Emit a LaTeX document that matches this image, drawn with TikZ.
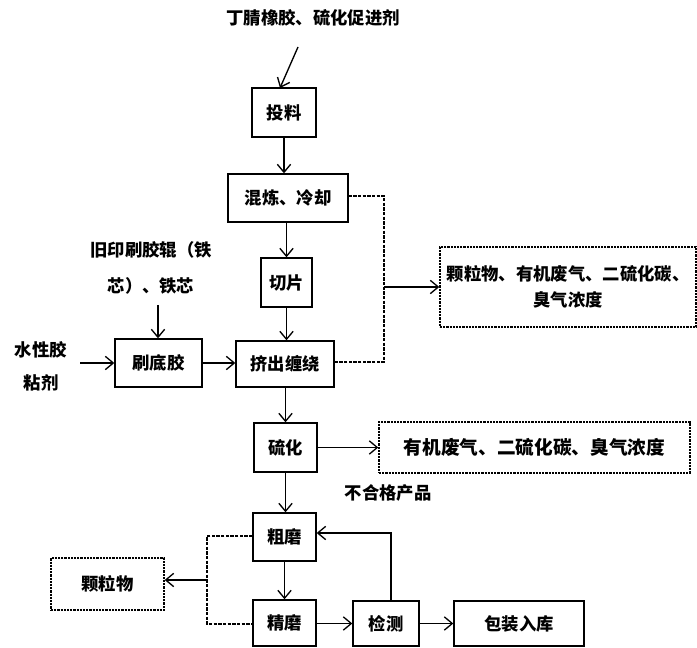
\documentclass[tikz,border=0pt]{standalone}
\usepackage{fontspec}
\setmainfont{Noto Sans CJK SC}
\usetikzlibrary{arrows.meta}
\begin{document}
\begin{tikzpicture}[x=0.75pt,y=-0.75pt,
  font=\fontsize{13pt}{18pt}\selectfont\bfseries,
  box/.style={draw, line width=1pt, inner sep=0pt, align=center},
  dbox/.style={box, dash pattern=on 1.6pt off 0.8pt},
  arr/.style={line width=1pt, -{Straight Barb[length=6pt,width=10pt,line width=1pt]}},
  dline/.style={line width=1pt, dash pattern=on 2.5pt off 1pt},
  lbl/.style={inner sep=0pt, align=center}]
\useasboundingbox (0,0) rectangle (697,648);
\fill[white] (0,0) rectangle (697,648);
% labels
\node[lbl] (top) at (313,18) {丁腈橡胶、硫化促进剂};
\node[lbl, font=\fontsize{13pt}{27.5pt}\selectfont\bfseries] (old) at (151,268) {旧印刷胶辊（铁\\芯）、铁芯};
\node[lbl, font=\fontsize{13pt}{25pt}\selectfont\bfseries] (water) at (41,366) {水性胶\\粘剂};
\node[lbl] (bhg) at (388,493) {不合格产品};
% boxes
\node[box, minimum width=48pt, minimum height=36.75pt] (tl) at (284,112.5) {投料};
\node[box, minimum width=90pt, minimum height=36pt] (hl) at (288,198) {混炼、冷却};
\node[box, minimum width=38.25pt, minimum height=36.75pt] (qp) at (286.5,282.5) {切片};
\node[box, minimum width=65.25pt, minimum height=36pt] (sd) at (158.5,363) {刷底胶};
\node[box, minimum width=73.5pt, minimum height=34.5pt] (jc) at (285,364) {挤出缠绕};
\node[box, minimum width=47.25pt, minimum height=36.75pt] (lh) at (285.5,447.5) {硫化};
\node[box, minimum width=47.25pt, minimum height=36pt] (cm) at (284.5,537) {粗磨};
\node[box, minimum width=47.25pt, minimum height=34.5pt] (jm) at (284.5,623) {精磨};
\node[box, minimum width=49.5pt, minimum height=33.75pt] (jcc) at (386,623.5) {检测};
\node[box, minimum width=97.5pt, minimum height=33.75pt] (bz) at (519,623.5) {包装入库};
\node[dbox, minimum width=84.75pt, minimum height=39pt] (kl) at (107.5,584) {颗粒物};
\node[dbox, minimum width=192pt, minimum height=60pt, font=\fontsize{13pt}{20pt}\selectfont\bfseries] (e1) at (568,287) {颗粒物、有机废气、二硫化碳、\\臭气浓度};
\node[dbox, minimum width=233.25pt, minimum height=38.25pt, font=\fontsize{14pt}{18pt}\selectfont\bfseries] (e2) at (534.5,447.5) {有机废气、二硫化碳、臭气浓度};
% coordinates
\coordinate (ts) at (298,47);
\coordinate (te) at (280,88);
\coordinate (os) at (158,305);
\coordinate (ws) at (80,363);
\coordinate (d1) at (384,196);
\coordinate (d2) at (384,362);
\coordinate (d3) at (384,287);
\coordinate (k1) at (207,536);
\coordinate (k2) at (207,624);
\coordinate (k3) at (207,580);
\coordinate (r1) at (391,533);
% connectors
\draw[arr] (ts) -- (te);
\draw[arr] (tl.south) -- (tl.south |- hl.north);
\draw[arr] (qp.north |- hl.south) -- (qp.north);
\draw[arr] (qp.south) -- (qp.south |- jc.north);
\draw[arr] (os) -- (os |- sd.north);
\draw[arr] (ws) -- (ws -| sd.west);
\draw[arr] (sd.east) -- (sd.east -| jc.west);
\draw[arr] (jc.south -| lh.north) -- (lh.north);
\draw[dline] (hl.east |- d1) -- (d1) -- (d2) -- (d2 -| jc.east);
\draw[arr] (d3) -- (d3 -| e1.west);
\draw[arr] (lh.east) -- (lh.east -| e2.west);
\draw[arr] (lh.south) -- (lh.south |- cm.north);
\draw[arr] (cm.south) -- (cm.south |- jm.north);
\draw[dline] (cm.west |- k1) -- (k1) -- (k2) -- (k2 -| jm.west);
\draw[arr] (k3) -- (k3 -| kl.east);
\draw[arr] (jm.east |- jcc) -- (jcc.west);
\draw[arr] (jcc.east) -- (bz.west);
\draw[arr] (r1 |- jcc.north) -- (r1) -- (r1 -| cm.east);
\end{tikzpicture}
\end{document}
